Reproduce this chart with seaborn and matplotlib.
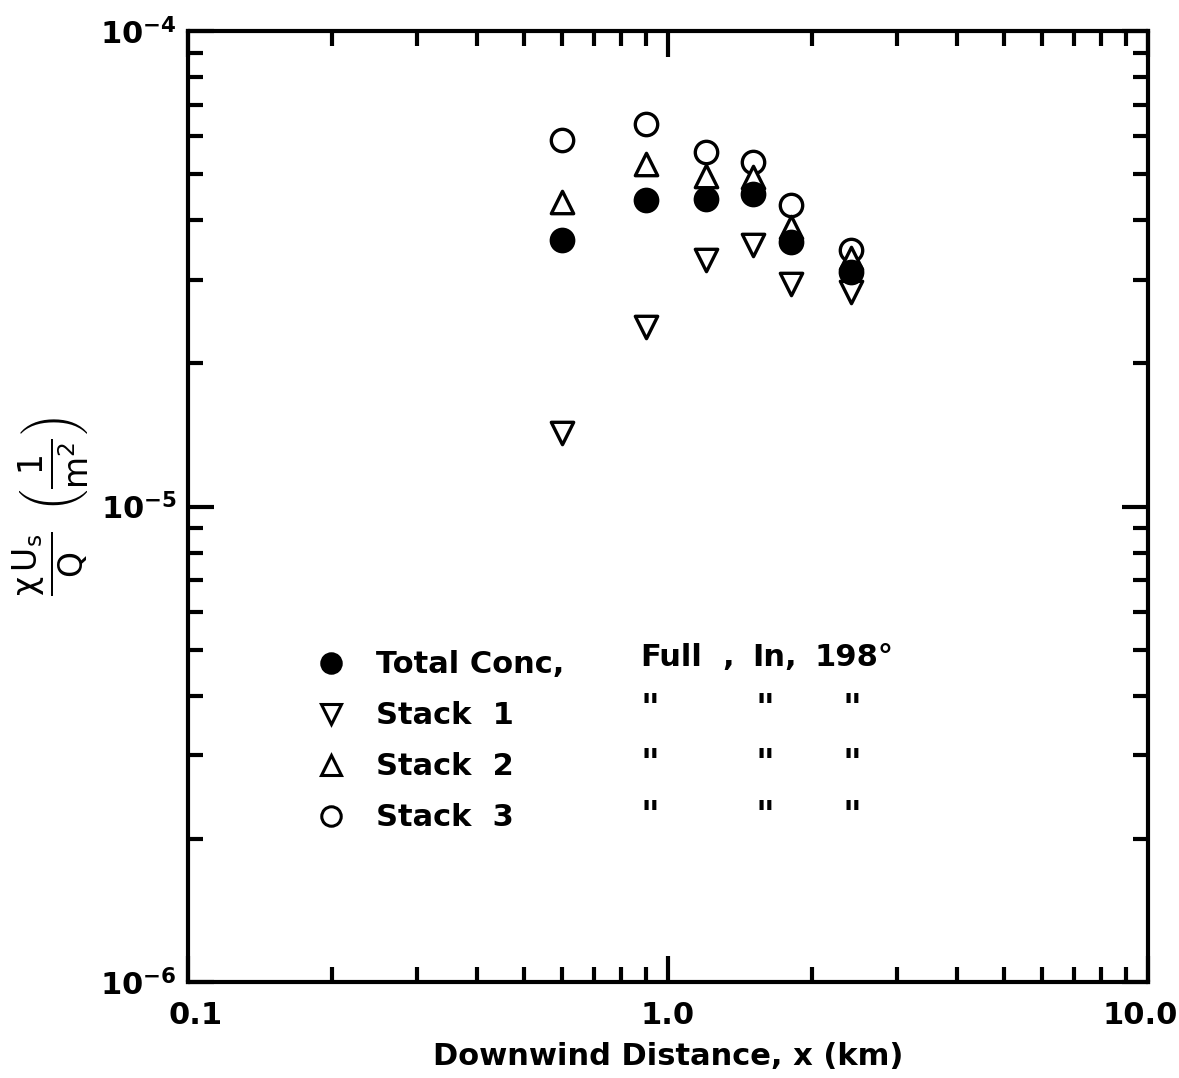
import numpy as np
import pandas as pd
import matplotlib
matplotlib.use("Agg")
import matplotlib.pyplot as plt
import matplotlib.transforms as mtransforms
import seaborn as sns
from matplotlib.lines import Line2D
from matplotlib.ticker import LogLocator, FixedLocator, NullFormatter

# ---- data ----
distance_km = [0.6, 0.9, 1.2, 1.5, 1.8, 2.4]
total_conc = [3.63e-5, 4.41e-5, 4.43e-5, 4.54e-5, 3.60e-5, 3.11e-5]
stack1 = [1.43e-5, 2.38e-5, 3.30e-5, 3.55e-5, 2.94e-5, 2.83e-5]
stack2 = [4.37e-5, 5.25e-5, 4.96e-5, 4.93e-5, 3.87e-5, 3.33e-5]
stack3 = [5.90e-5, 6.37e-5, 5.57e-5, 5.30e-5, 4.31e-5, 3.46e-5]
series_names = ["Total Conc,", "Stack  1", "Stack  2", "Stack  3"]
x_tick_values = [0.1, 1.0, 10.0]
x_tick_labels = ["0.1", "1.0", "10.0"]
y_tick_values = [1e-6, 1e-5, 1e-4]
y_tick_labels = [r"$\mathbf{10^{-6}}$", r"$\mathbf{10^{-5}}$", r"$\mathbf{10^{-4}}$"]

df = pd.DataFrame({
    "x": distance_km * 4,
    "y": total_conc + stack1 + stack2 + stack3,
    "series": sum([[n] * len(distance_km) for n in series_names], []),
})

sns.set_theme(style="white")
plt.rcParams["font.family"] = ["DejaVu Sans"]
plt.rcParams["mathtext.fontset"] = "custom"
plt.rcParams["mathtext.rm"] = "DejaVu Sans:bold"
plt.rcParams["mathtext.it"] = "DejaVu Sans:bold"
plt.rcParams["mathtext.bf"] = "DejaVu Sans:bold"
plt.rcParams["mathtext.default"] = "regular"
for key in ["text.color", "axes.labelcolor", "xtick.color", "ytick.color", "axes.edgecolor"]:
    plt.rcParams[key] = "black"

fig = plt.figure(figsize=(11.79, 10.78), dpi=100)
ax = fig.add_axes([188 / 1179, 1 - 982 / 1078, 960 / 1179, 951 / 1078])
ax.set_xscale("log")
ax.set_yscale("log")
ax.set_xlim(0.1, 10)
ax.set_ylim(1e-6, 1e-4)

styles = {
    "Total Conc,": dict(marker="o", fc="black"),
    "Stack  1": dict(marker="v", fc="white"),
    "Stack  2": dict(marker="^", fc="white"),
    "Stack  3": dict(marker="o", fc="white"),
}
for name in ["Stack  1", "Stack  3", "Stack  2", "Total Conc,"]:
    sub = df[df["series"] == name]
    st = styles[name]
    sns.scatterplot(data=sub, x="x", y="y", ax=ax, marker=st["marker"],
                    s=260, color=st["fc"], edgecolor="black", linewidth=2.4,
                    legend=False, zorder=3)

for sp in ax.spines.values():
    sp.set_linewidth(3)
    sp.set_color("black")
ax.xaxis.set_major_locator(FixedLocator(x_tick_values))
ax.set_xticklabels(x_tick_labels)
ax.yaxis.set_major_locator(FixedLocator(y_tick_values))
ax.set_yticklabels(y_tick_labels)
ax.xaxis.set_minor_locator(LogLocator(base=10, subs=np.arange(2, 10)))
ax.yaxis.set_minor_locator(LogLocator(base=10, subs=np.arange(2, 10)))
ax.xaxis.set_minor_formatter(NullFormatter())
ax.yaxis.set_minor_formatter(NullFormatter())
ax.tick_params(which="both", direction="in", top=True, right=True,
               bottom=True, left=True, color="black", width=3)
ax.tick_params(which="major", length=19, labelsize=22, pad=14)
ax.tick_params(which="minor", length=11)
ax.tick_params(axis="y", which="major", pad=8)
for lab in ax.get_xticklabels() + ax.get_yticklabels():
    lab.set_fontweight("bold")
xl = ax.get_xticklabels()
xl[0].set_transform(xl[0].get_transform() + mtransforms.ScaledTranslation(8 / 100, 0, fig.dpi_scale_trans))
xl[-1].set_transform(xl[-1].get_transform() + mtransforms.ScaledTranslation(-8 / 100, 0, fig.dpi_scale_trans))
ax.grid(False)

ax.set_xlabel("Downwind Distance, x (km)", fontsize=22, fontweight="bold", labelpad=8)
ax.set_ylabel(r"$\frac{\chi\,U_s}{Q}\ \left(\frac{1}{m^2}\right)$", fontsize=34)
ax.yaxis.set_label_coords(-0.1, 0.5)

handles = []
for name in series_names:
    st = styles[name]
    handles.append(Line2D([], [], linestyle="none", marker=st["marker"],
                          markersize=14, markerfacecolor=st["fc"],
                          markeredgecolor="black", markeredgewidth=2.2))
leg = ax.legend(handles, series_names, loc="upper left",
                bbox_to_anchor=((300 - 188) / 960, (982 - 635) / 951),
                frameon=False, fontsize=22, handlelength=1.0,
                handletextpad=1.0, labelspacing=0.72, borderpad=0)
for t in leg.get_texts():
    t.set_fontweight("bold")
    t.set_color("black")

def axpos(px, py):
    return ((px - 188) / 960, (982 - py) / 951)

row_y = [658, 713, 768, 820]
extras = [("Full", 640), (",", 722), ("In,", 752), ("198°", 814)]
for txt, px in extras:
    ax.text(*axpos(px, row_y[0]), txt, transform=ax.transAxes, fontsize=22,
            fontweight="bold", ha="left", va="center")
for py in row_y[1:]:
    for px in [650, 765, 852]:
        ax.text(*axpos(px, py - 4), '"', transform=ax.transAxes, fontsize=26,
                fontweight="bold", ha="center", va="center")

fig.savefig("out.png", dpi=100)
